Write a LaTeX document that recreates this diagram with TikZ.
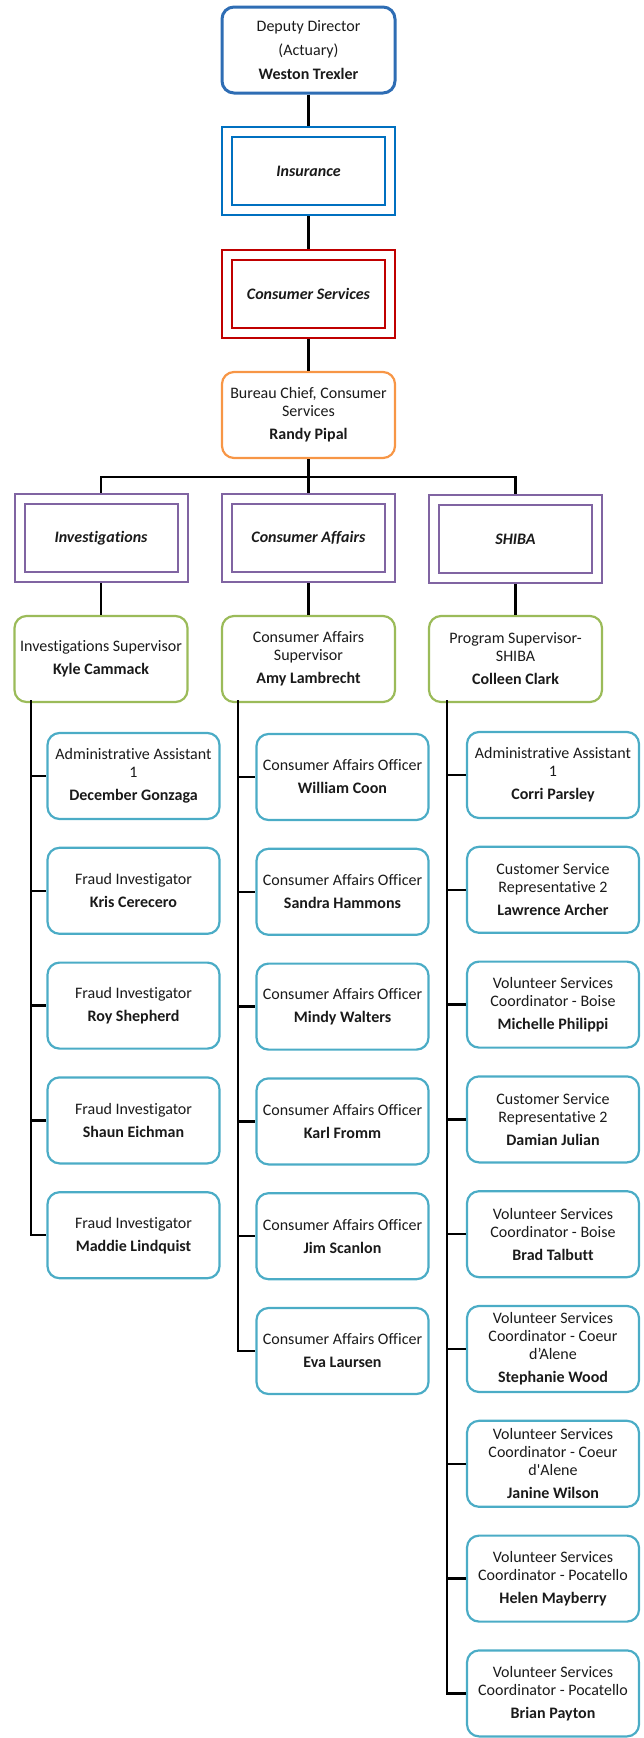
\documentclass[tikz,border=0pt]{standalone}
\usepackage{fontspec}
\setmainfont{Carlito}[Ligatures={CommonOff,TeXOff}]
\definecolor{cDeputy}{HTML}{2E6DB4}
\definecolor{cIns}{HTML}{0070C0}
\definecolor{cRed}{HTML}{C00000}
\definecolor{cOrange}{HTML}{F79646}
\definecolor{cPurple}{HTML}{8064A2}
\definecolor{cGreen}{HTML}{9BBB59}
\definecolor{cTeal}{HTML}{4BACC6}
\definecolor{cText}{HTML}{1A1A1A}
\newcommand\who[1]{\\[5pt]\textbf{#1}}
\begin{document}
\begin{tikzpicture}[x=1pt,y=-1pt,
  box/.style={align=center, inner sep=0pt, minimum width=173pt, minimum height=86pt,
    text=cText, font=\fontsize{16}{18}\selectfont},
  person/.style={box, draw, rounded corners=12pt, line width=2.2pt},
  unit/.style={box, draw, line width=2pt, minimum height=88pt,
    font=\fontsize{16}{18}\selectfont\bfseries\itshape},
  child/.style={person, draw=cTeal, minimum width=172pt},
  link/.style={line width=2.5pt, black}]
\useasboundingbox (0,0) rectangle (643,1738);

% junction points of the tree
\coordinate (bar) at (308.5,477);
\coordinate (t1) at (31,700);
\coordinate (t2) at (238,700);
\coordinate (t3) at (447,700);

% upper chain
\node[person, draw=cDeputy, line width=3pt] (dep) at (308.5,50)
  {Deputy Director\\[6pt](Actuary)\\[6pt]\textbf{Weston Trexler}};
\node[unit, draw=cIns] (ins) at (308.5,171) {Insurance};
\node[unit, draw=cRed] (cs) at (308.5,293.5) {Consumer Services};
\node[person, draw=cOrange] (bur) at (308.5,415)
  {Bureau Chief, Consumer\\Services\who{Randy Pipal}};

% sections
\node[unit, draw=cPurple] (inv) at (101,538) {Investigations};
\node[unit, draw=cPurple] (caf) at (308.5,538) {Consumer Affairs};
\node[unit, draw=cPurple] (shb) at (515.5,539) {SHIBA};

% inner frames of the section boxes
\foreach \n/\c in {ins/cIns, cs/cRed, inv/cPurple, caf/cPurple, shb/cPurple}
  \draw[\c, line width=2pt] ([xshift=11pt,yshift=-11pt]\n.north west)
    rectangle ([xshift=-11pt,yshift=11pt]\n.south east);

% supervisors
\node[person, draw=cGreen] (s1) at (101,659)
  {Investigations Supervisor\who{Kyle Cammack}};
\node[person, draw=cGreen] (s2) at (308.5,659)
  {Consumer Affairs\\Supervisor\who{Amy Lambrecht}};
\node[person, draw=cGreen] (s3) at (515.5,659)
  {Program Supervisor-\\SHIBA\who{Colleen Clark}};

% staff, Investigations
\foreach \k/\t in {0/{Administrative Assistant\\1\who{December Gonzaga}},
                   1/{Fraud Investigator\who{Kris Cerecero}},
                   2/{Fraud Investigator\who{Roy Shepherd}},
                   3/{Fraud Investigator\who{Shaun Eichman}},
                   4/{Fraud Investigator\who{Maddie Lindquist}}}
  \node[child] (a\k) at (133.5,776+114.8*\k) {\t};

% staff, Consumer Affairs
\foreach \k/\t in {0/{William Coon}, 1/{Sandra Hammons}, 2/{Mindy Walters},
                   3/{Karl Fromm}, 4/{Jim Scanlon}, 5/{Eva Laursen}}
  \node[child] (b\k) at (342.5,777+114.8*\k) {Consumer Affairs Officer\who{\t}};

% staff, SHIBA
\foreach \k/\t in {0/{Administrative Assistant\\1\who{Corri Parsley}},
                   1/{Customer Service\\Representative 2\who{Lawrence Archer}},
                   2/{Volunteer Services\\Coordinator - Boise\who{Michelle Philippi}},
                   3/{Customer Service\\Representative 2\who{Damian Julian}},
                   4/{Volunteer Services\\Coordinator - Boise\who{Brad Talbutt}},
                   5/{Volunteer Services\\Coordinator - Coeur\\d’Alene\who{Stephanie Wood}},
                   6/{Volunteer Services\\Coordinator - Coeur\\d'Alene\who{Janine Wilson}},
                   7/{Volunteer Services\\Coordinator - Pocatello\who{Helen Mayberry}},
                   8/{Volunteer Services\\Coordinator - Pocatello\who{Brian Payton}}}
  \node[child] (c\k) at (553,775+114.8*\k) {\t};

% links
\draw[link] (dep) -- (ins);
\draw[link] (ins) -- (cs);
\draw[link] (cs) -- (bur);
\draw[link] (bur) -- (bar);
\draw[link] (bar) -| (inv);
\draw[link] (bar) -| (shb);
\draw[link] (bar) -- (caf);
\draw[link] (inv) -- (s1);
\draw[link] (caf) -- (s2);
\draw[link] (shb) -- (s3);

\draw[link] (t1) |- (a4.west);
\foreach \k in {0,...,3} \draw[link] (a\k.west -| t1) -- (a\k.west);
\draw[link] (t2) |- (b5.west);
\foreach \k in {0,...,4} \draw[link] (b\k.west -| t2) -- (b\k.west);
\draw[link] (t3) |- (c8.west);
\foreach \k in {0,...,7} \draw[link] (c\k.west -| t3) -- (c\k.west);
\end{tikzpicture}
\end{document}
